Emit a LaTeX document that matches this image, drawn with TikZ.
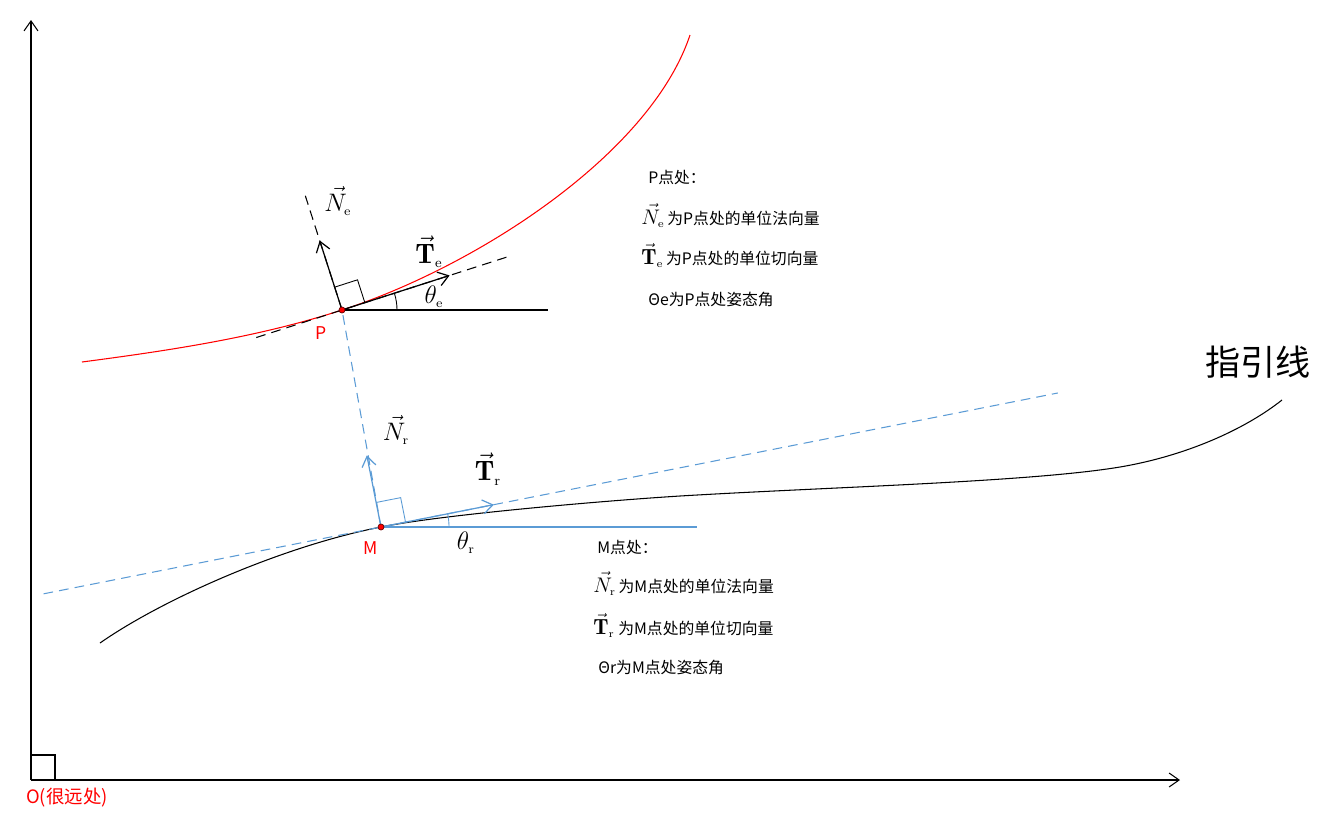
\documentclass[tikz,border=0pt]{standalone}
\usepackage{amsmath,amssymb}
\usepackage{fontspec}
\newfontfamily\cjk{Noto Sans CJK SC}
\usepackage{tikz}
\usetikzlibrary{positioning, calc, arrows.meta}
\definecolor{mblue}{RGB}{91,155,213}
% 说明文字中的公式
\newcommand{\notemath}[1]{{\fontsize{12.5}{14}\selectfont$#1$}}

\begin{document}
\begin{tikzpicture}[
    x=0.02cm, y=0.02cm,
    >={Straight Barb[length=2mm, width=2.8mm]},
    axis/.style={line width=0.6pt},
    vecline/.style={line width=0.7pt},
    tanline/.style={dashed, dash pattern=on 5.5pt off 3.5pt, line width=0.6pt},
    vlabel/.style={inner sep=0pt, font=\fontsize{14.5}{16}\selectfont},
    note/.style={anchor=base west, inner sep=0pt, font=\cjk\fontsize{9}{11}\selectfont},
    ptlabel/.style={inner sep=0pt, text=red, font=\cjk\fontsize{10}{12}\selectfont},
    ptdot/.style={circle, fill=red, draw=black!60!red, line width=0.4pt, inner sep=0pt, minimum size=1.2mm}
]
\useasboundingbox (0,0) rectangle (1325,-822);

% 坐标轴
\coordinate (O) at (31,-780);
\coordinate (Ytop) at (31,-20);
\coordinate (Xend) at (1180,-780);
\draw[->, axis] (O) -- (Ytop);
\draw[->, axis] (O) -- (Xend);
\draw[line width=1.3pt] ($(O)+(0,25)$) -- ++(24,0) -- ++(0,-25);
\node[ptlabel, font=\cjk\fontsize{10.5}{12}\selectfont] (Olabel) at (67,-798) {O(很远处)};

% 期望轨迹（红色）与P点
\coordinate (P) at (342,-310);
\draw[red, line width=0.6pt] (82,-362) .. controls (165,-351) and (256,-338) .. (P)
    .. controls (475,-267) and (650,-155) .. (690,-35);

% 指引线（黑色）与M点
\coordinate (M) at (381,-527);
\draw[line width=0.6pt] (100,-643) .. controls (163,-599) and (283,-546) .. (M)
    .. controls (440,-515) and (600,-501) .. (680,-496)
    .. controls (830,-487) and (1030,-482) .. (1120,-467)
    .. controls (1185,-456) and (1244,-430) .. (1282,-400);
\node[font=\cjk\fontsize{20}{24}\selectfont, inner sep=0pt] (guide) at (1258,-362) {指引线};

% P点处的切向量、法向量
\coordinate (Te) at ($(P)+(17.8:113)$);
\coordinate (Ne) at ($(P)+(107.8:73)$);
\draw[tanline] ($(P)+(197.8:90)$) -- ($(P)+(17.8:178)$);
\draw[tanline] (P) -- ($(P)+(107.8:120)$);
\draw[->, vecline] (P) -- (Te);
\draw[->, vecline] (P) -- (Ne);
\coordinate (Pa) at ($(P)+(17.8:24)$);
\coordinate (Pb) at ($(P)+(107.8:24)$);
\draw[line width=0.5pt] (Pa) -- ($(Pa)+(Pb)-(P)$) -- (Pb);
\draw[line width=0.6pt] (P) -- (548,-310);
\draw[line width=0.5pt] ($(P)+(55,0)$) arc[start angle=0, end angle=17.8, radius=1.1cm];

% M点处的切向量、法向量
\draw[tanline, mblue] (M) -- (P);
\coordinate (Tr) at ($(M)+(11.2:115)$);
\coordinate (Nr) at ($(M)+(101.2:73)$);
\draw[tanline, mblue] ($(M)+(191.2:344)$) -- ($(M)+(11.2:690)$);
\draw[->, vecline, mblue] (M) -- (Tr);
\draw[->, vecline, mblue] (M) -- (Nr);
\coordinate (Ma) at ($(M)+(11.2:25)$);
\coordinate (Mb) at ($(M)+(101.2:25)$);
\draw[line width=0.5pt, mblue] (Ma) -- ($(Ma)+(Mb)-(M)$) -- (Mb);
\draw[line width=0.6pt, mblue] (M) -- (697,-527);
\draw[line width=0.5pt, mblue] ($(M)+(68,0)$) arc[start angle=0, end angle=11.2, radius=1.36cm];

% 点
\node[ptdot] (Pdot) at (P) {};
\node[ptdot] (Mdot) at (M) {};
\node[ptlabel] (Plabel) at (321,-333) {P};
\node[ptlabel] (Mlabel) at (371,-548) {M};

% 向量标注
\node[vlabel] (NeLabel) at (338,-201) {$\vec{N}_{\scriptscriptstyle\mathrm{e}}$};
\node[vlabel, font=\fontsize{16}{18}\selectfont] (TeLabel) at (429,-252) {$\vec{\mathbf{T}}_{\scriptscriptstyle\mathrm{e}}$};
\node[vlabel] (thetaE) at (434,-297) {$\theta_{\scriptscriptstyle\mathrm{e}}$};
\node[vlabel] (NrLabel) at (396,-430) {$\vec{N}_{\scriptscriptstyle\mathrm{r}}$};
\node[vlabel, font=\fontsize{16}{18}\selectfont] (TrLabel) at (488,-469) {$\vec{\mathbf{T}}_{\scriptscriptstyle\mathrm{r}}$};
\node[vlabel] (thetaR) at (466,-543) {$\theta_{\scriptscriptstyle\mathrm{r}}$};

% 说明文字
\node[note] (p0) at (648,-183) {P点处：};
\node[note] (p1) at (641,-224) {\notemath{\vec{N}_{\scriptscriptstyle\mathrm{e}}}\,为P点处的单位法向量};
\node[note] (p2) at (641,-264) {\notemath{\vec{\mathbf{T}}_{\scriptscriptstyle\mathrm{e}}}\,为P点处的单位切向量};
\node[note] (p3) at (648,-305) {Θe为P点处姿态角};
\node[note] (m0) at (597,-553) {M点处：};
\node[note] (m1) at (593,-592) {\notemath{\vec{N}_{\scriptscriptstyle\mathrm{r}}}\,为M点处的单位法向量};
\node[note] (m2) at (593,-634) {\notemath{\vec{\mathbf{T}}_{\scriptscriptstyle\mathrm{r}}}\ 为M点处的单位切向量};
\node[note] (m3) at (598,-673) {Θr为M点处姿态角};

\end{tikzpicture}
\end{document}
